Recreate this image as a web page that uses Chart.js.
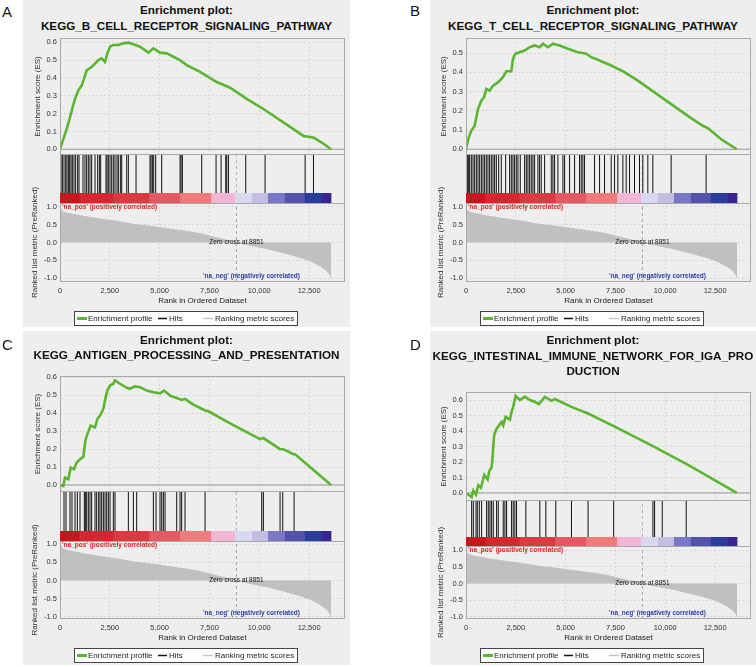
<!DOCTYPE html>
<html><head><meta charset="utf-8">
<script src="https://cdn.jsdelivr.net/npm/chart.js@4.4.0/dist/chart.umd.min.js"></script>
<style>
html,body{margin:0;padding:0;background:#fff;width:756px;height:667px;overflow:hidden;position:relative;font-family:"Liberation Sans",Arial,sans-serif;}
.box{position:absolute;background:#eeeeee;}
.tl{position:absolute;font-weight:bold;font-size:11.7px;color:#111;text-align:center;white-space:nowrap;line-height:16px;height:16px;}
.letter{position:absolute;font-size:15px;color:#111;line-height:16px;}
canvas{position:absolute;}
</style></head><body>
<script>
// ---------------- data ----------------
const X_MAX = 14300;
const xTicks = [0, 2500, 5000, 7500, 10000, 12500];
const zeroCross = 8851;

const titleA = ['Enrichment plot:', 'KEGG_B_CELL_RECEPTOR_SIGNALING_PATHWAY'];
const titleB = ['Enrichment plot:', 'KEGG_T_CELL_RECEPTOR_SIGNALING_PATHWAY'];
const titleC = ['Enrichment plot:', 'KEGG_ANTIGEN_PROCESSING_AND_PRESENTATION'];
const titleD = ['Enrichment plot:', 'KEGG_INTESTINAL_IMMUNE_NETWORK_FOR_IGA_PRO', 'DUCTION'];

// running enrichment score: [rank, ES]
const esA = [[0,0],[167,0.057],[334,0.113],[502,0.179],[636,0.236],[753,0.283],[920,0.330],[1088,0.358],[1205,0.396],[1339,0.443],[1473,0.453],[1590,0.462],[1757,0.481],[1925,0.500],[2092,0.51],[2259,0.49],[2376,0.538],[2510,0.575],[2677,0.585],[2928,0.585],[3179,0.594],[3430,0.598],[3681,0.589],[4016,0.575],[4434,0.542],[4686,0.566],[5020,0.542],[5355,0.538],[5690,0.519],[6024,0.5],[6359,0.472],[7028,0.434],[7865,0.377],[8534,0.345],[9371,0.283],[10207,0.226],[11211,0.151],[12215,0.075],[12466,0.07],[12717,0.066],[13135,0.038],[13604,0]];
const esB = [[0,0],[134,0.061],[267,0.096],[434,0.122],[518,0.165],[602,0.209],[769,0.253],[902,0.27],[1019,0.314],[1186,0.305],[1354,0.331],[1604,0.348],[1855,0.375],[2022,0.406],[2273,0.406],[2356,0.47],[2473,0.497],[2690,0.505],[2941,0.514],[3192,0.531],[3442,0.54],[3693,0.531],[3860,0.549],[4111,0.531],[4362,0.549],[4696,0.54],[5113,0.523],[5615,0.505],[6032,0.497],[6283,0.479],[6701,0.462],[7286,0.436],[7954,0.401],[8622,0.357],[9458,0.296],[10293,0.235],[11129,0.174],[11881,0.122],[12132,0.11],[12800,0.052],[13585,0]];
const esC = [[0,0],[167,-0.006],[251,0.041],[418,0.032],[535,0.097],[703,0.088],[837,0.125],[1004,0.143],[1171,0.156],[1271,0.246],[1372,0.283],[1539,0.33],[1757,0.32],[1874,0.367],[2008,0.386],[2175,0.423],[2275,0.479],[2376,0.525],[2510,0.553],[2677,0.563],[2760,0.581],[3011,0.563],[3346,0.54],[3513,0.535],[3764,0.548],[4015,0.544],[4350,0.525],[4684,0.516],[5019,0.51],[5220,0.525],[5521,0.497],[5856,0.484],[6107,0.473],[6274,0.479],[6692,0.447],[7278,0.414],[7445,0.41],[8700,0.333],[10038,0.255],[10205,0.261],[11042,0.199],[11209,0.199],[11711,0.171],[11795,0.171],[13601,0]];
const esD = [[0,0],[284,-0.026],[367,0.015],[501,-0.011],[618,0.05],[751,0.033],[918,0.116],[1085,0.087],[1168,0.142],[1285,0.164],[1335,0.229],[1369,0.305],[1419,0.377],[1535,0.415],[1652,0.436],[1786,0.458],[1869,0.436],[1986,0.491],[2203,0.473],[2287,0.524],[2370,0.556],[2487,0.626],[2704,0.6],[2954,0.622],[3204,0.6],[3455,0.589],[3655,0.574],[3956,0.62],[4289,0.595],[4456,0.607],[5291,0.556],[6125,0.513],[7410,0.432],[9430,0.299],[9797,0.273],[11099,0.185],[13585,0]];

// hit positions (rank)
const hitsA = [50,117,201,285,351,418,485,552,619,703,786,887,954,1155,1255,1339,1422,1506,1590,1757,1891,1975,2042,2309,2359,2426,2510,2594,2677,2761,2861,2928,3029,3096,3347,3430,3815,4518,4568,4635,4702,4802,5104,6024,6074,6141,7112,7831,8082,8316,8366,8450,9320,10291,12299,12718];
const hitsB = [67,134,184,267,351,434,518,602,685,769,852,936,1019,1103,1186,1270,1354,1437,1521,1638,1771,1989,2189,2273,2356,2440,2523,2607,2724,2941,3025,3108,3192,3275,3359,3442,3609,3693,3776,3944,4278,4361,4445,4612,4863,4947,5197,5448,5698,5782,5865,5949,6450,6701,6951,7286,7453,7620,7871,8038,8205,8455,8706,8873,9124,9374,10293,12048];
const hitsC = [201,301,502,602,753,870,1004,1221,1271,1338,1422,1506,1589,1757,1840,1941,2008,2091,2175,2259,2342,2426,2510,2677,2760,3430,3681,3848,4684,4818,5019,5103,5186,5270,5856,6023,6106,6274,7278,10122,10205,11042,11176,11745];
const hitsD = [284,367,501,567,668,784,1035,1118,1202,1285,1369,1535,1619,1869,1953,2036,2287,2370,2453,2537,3004,3705,4006,4506,5291,6125,7410,9380,9463,9847,11049];

// ranked list metric (shared)
const metricRank  = [0,60,167,335,1171,2008,2844,3681,4517,5354,6190,7027,7863,8851,9536,10373,11209,12046,12548,13050,13384,13551,13604];
const metricValue = [1.0,0.92,0.856,0.83,0.735,0.66,0.595,0.51,0.456,0.39,0.326,0.25,0.13,0,-0.08,-0.17,-0.288,-0.419,-0.51,-0.66,-0.79,-0.91,-1.0];

// heat bar segments
const barEdges  = [0,1000,2700,4500,6050,7600,8800,9650,10450,11300,12300,13150,13600];
const barColors = ['#c8161e','#d42830','#dc3a42','#e45a64','#ee7c7c','#f2b6d4','#d8d8ee','#c2bee2','#7a78c6','#5252aa','#2c3c9c','#3a2590'];

// ---------------- styles / layout ----------------
const FONT = '"Liberation Sans", Arial, sans-serif';
const GREEN = '#5cb531';
const GRID = '#d6d6d6';
const FRAME = '#a8a8a8';
const ES_AXIS_W = 27, RK_AXIS_W = 30, X_AXIS_H = 24, ES_TOP_PAD = 6;
Chart.defaults.font.family = FONT;

const panels = [
  {box:[23,0,327,327], letter:['A',2,11.5], title:titleA, titleY:[10,26], plotL:60, plotR:344, es:[38,154], hits:[154,193], cbar:[193,203], rank:[203,281], esData:esA, hitData:hitsA, esMin:-0.032, esMax:0.624, rkMin:-1.11, rkMax:1.11},
  {box:[430,0,326,327], letter:['B',410,11], title:titleB, titleY:[10,26], plotL:466, plotR:750, es:[38,154], hits:[154,193], cbar:[193,203], rank:[203,281], esData:esB, hitData:hitsB, esMin:-0.030, esMax:0.579, rkMin:-1.11, rkMax:1.11},
  {box:[23,331,327,334], letter:['C',2,345], title:titleC, titleY:[340,355], plotL:60, plotR:344, es:[376,491], hits:[491,531], cbar:[531,541], rank:[541,618], esData:esC, hitData:hitsC, esMin:-0.039, esMax:0.606, rkMin:-1.056, rkMax:1.083},
  {box:[430,331,326,334], letter:['D',410,345], title:titleD, titleY:[340,355.5,371], plotL:466, plotR:750, es:[392,500], hits:[500,537], cbar:[537,546], rank:[546,618], esData:esD, hitData:hitsD, esMin:-0.052, esMax:0.652, rkMin:-1.06, rkMax:1.12}
];

function el(cls, x, y, w, h, text) {
  const d = document.createElement('div');
  d.className = cls;
  d.style.left = x + 'px'; d.style.top = y + 'px';
  if (w != null) d.style.width = w + 'px';
  if (h != null) d.style.height = h + 'px';
  if (text != null) d.textContent = text;
  document.body.appendChild(d);
  return d;
}
function canvasAt(x, y, w, h) {
  const c = document.createElement('canvas');
  c.width = w; c.height = h;
  c.style.left = x + 'px'; c.style.top = y + 'px';
  c.style.width = w + 'px'; c.style.height = h + 'px';
  document.body.appendChild(c);
  return c;
}
function noPad(s) { s.paddingTop = 0; s.paddingBottom = 0; s.paddingLeft = 0; s.paddingRight = 0; }
function setXTicks(s) { s.ticks = xTicks.map(v => ({value: v})); }

const framePlugin = {
  id: 'frame',
  afterDatasetsDraw(chart) {
    const a = chart.chartArea, c = chart.ctx;
    c.save(); c.strokeStyle = FRAME; c.lineWidth = 1;
    c.strokeRect(a.left + 0.5, a.top + 0.5, a.right - a.left - 1, a.bottom - a.top - 1);
    c.restore();
  }
};

const legendItems = [
  {text:'Enrichment profile', color:GREEN, lw:3, x0:3, x1:13, tx:14},
  {text:'Hits', color:'#111', lw:1.5, x0:84, x1:93, tx:95},
  {text:'', color:'#ffffff', lw:1.5, x0:116, x1:126, tx:127},
  {text:'Ranking metric scores', color:'#c4c4c4', lw:1.5, x0:129, x1:139, tx:141}
];

const annotPlugin = {
  id: 'annot',
  afterDatasetsDraw(chart) {
    const {ctx, chartArea: a, scales: {x, y}} = chart;
    ctx.save();
    ctx.font = 'bold 6.5px ' + FONT;
    ctx.fillStyle = '#dd2222'; ctx.textAlign = 'left'; ctx.textBaseline = 'middle';
    ctx.fillText("'na_pos' (positively correlated)", a.left + 2, a.top + 4);
    ctx.fillStyle = '#2c3ca8'; ctx.textAlign = 'right';
    ctx.fillText("'na_neg' (negatively correlated)", a.left + 240, a.bottom - 6);
    ctx.font = '6.5px ' + FONT; ctx.fillStyle = '#111'; ctx.textAlign = 'center';
    ctx.fillText('Zero cross at ' + zeroCross, x.getPixelForValue(zeroCross), y.getPixelForValue(0));
    // legend box
    const lx = a.left + 14, ly = a.bottom + 29, lw = 224, lh = 15;
    ctx.fillStyle = '#ffffff'; ctx.fillRect(lx, ly, lw, lh);
    ctx.strokeStyle = '#444'; ctx.lineWidth = 1; ctx.strokeRect(lx + 0.5, ly + 0.5, lw - 1, lh - 1);
    ctx.font = '8px ' + FONT; ctx.textAlign = 'left'; ctx.textBaseline = 'middle';
    for (const it of legendItems) {
      ctx.strokeStyle = it.color; ctx.lineWidth = it.lw;
      ctx.beginPath(); ctx.moveTo(lx + it.x0, ly + lh / 2); ctx.lineTo(lx + it.x1, ly + lh / 2); ctx.stroke();
      ctx.fillStyle = '#222';
      if (it.text) ctx.fillText(it.text, lx + it.tx, ly + lh / 2 + 0.5);
    }
    ctx.restore();
  }
};

const baseOpts = {
  responsive: false, animation: false, devicePixelRatio: 1,
  plugins: {legend: {display: false}, tooltip: {enabled: false}},
  elements: {point: {radius: 0, hitRadius: 0}, line: {tension: 0}},
  events: []
};
const tickFont = {size: 7.5, family: FONT};
const titleFont = {size: 8, family: FONT};

function buildPanel(p) {
  const [bx, by, bw, bh] = p.box;
  el('box', bx, by, bw, bh);
  el('letter', p.letter[1], p.letter[2] - 8, null, null, p.letter[0]);
  p.title.forEach((t, i) => el('tl', bx, p.titleY[i] - 8, bw, 16, t));
  const plotW = p.plotR + 1 - p.plotL;

  // ---- enrichment score ----
  const esH = p.es[1] - p.es[0] + 1;
  new Chart(canvasAt(p.plotL - ES_AXIS_W, p.es[0] - ES_TOP_PAD, ES_AXIS_W + plotW, esH + ES_TOP_PAD), {
    type: 'line',
    data: {datasets: [
      {data: p.esData.map(([x, y]) => ({x, y})), borderColor: GREEN, borderWidth: 2.6, pointRadius: 0},
      {data: [{x: 0, y: 0}, {x: X_MAX, y: 0}], borderColor: '#9a9a9a', borderWidth: 1, pointRadius: 0}
    ]},
    options: Object.assign({}, baseOpts, {
      layout: {padding: {top: ES_TOP_PAD, left: 0, right: 0, bottom: 0}},
      scales: {
        x: {type: 'linear', min: 0, max: X_MAX, ticks: {display: false},
            afterBuildTicks: setXTicks,
            grid: {color: GRID, drawTicks: false}, border: {display: false, dash: [2, 2]},
            afterFit(s) { s.height = 0; noPad(s); }},
        y: {type: 'linear', min: p.esMin, max: p.esMax,
            ticks: {stepSize: 0.1, includeBounds: false, callback: v => v.toFixed(1), font: tickFont, color: '#333', padding: 3},
            grid: {color: GRID, drawTicks: false}, border: {display: false, dash: [2, 2]},
            title: {display: true, text: 'Enrichment score (ES)', font: titleFont, color: '#333', padding: 0},
            afterFit(s) { s.width = ES_AXIS_W; noPad(s); }}
      }
    }),
    plugins: [framePlugin]
  });

  // ---- hits ----
  const hitsH = p.hits[1] - p.hits[0];
  const hcH = p.cbar[1] - p.hits[0] + 1;
  const hitPts = [];
  p.hitData.forEach(r => { hitPts.push({x: r, y: 0}, {x: r, y: 1}, {x: r, y: null}); });
  new Chart(canvasAt(p.plotL, p.hits[0], plotW, hcH), {
    type: 'line',
    data: {datasets: [
      {data: hitPts, borderColor: '#111', borderWidth: 1, pointRadius: 0, spanGaps: false},
      {data: [{x: zeroCross, y: 0}, {x: zeroCross, y: 1}], borderColor: '#b0b0b0', borderWidth: 1, borderDash: [3, 3], pointRadius: 0}
    ]},
    options: Object.assign({}, baseOpts, {
      layout: {padding: 0},
      scales: {
        x: {type: 'linear', display: false, min: 0, max: X_MAX},
        y: {type: 'linear', display: false, min: 1 - hcH / hitsH, max: 1}
      }
    }),
    plugins: [framePlugin]
  });

  // ---- colour bar ----
  const segs = barColors.map((c, i) => ({x: [barEdges[i], barEdges[i + 1]], y: 'metric'}));
  new Chart(canvasAt(p.plotL, p.cbar[0], plotW, p.cbar[1] - p.cbar[0]), {
    type: 'bar',
    data: {labels: ['metric'], datasets: [{data: segs, backgroundColor: barColors, borderWidth: 0,
      barPercentage: 1, categoryPercentage: 1, grouped: false}]},
    options: Object.assign({}, baseOpts, {
      indexAxis: 'y',
      layout: {padding: 0},
      scales: {
        x: {type: 'linear', display: false, min: 0, max: X_MAX},
        y: {type: 'category', display: false}
      }
    })
  });

  // ---- ranked list metric ----
  const cTop = p.hits[0];
  const cH = p.rank[1] + 50 - cTop;
  const areaBottom = p.rank[1] + 1 - cTop;
  new Chart(canvasAt(p.plotL - RK_AXIS_W, cTop, RK_AXIS_W + plotW, cH), {
    type: 'line',
    data: {datasets: [
      {data: metricRank.map((r, i) => ({x: r, y: metricValue[i]})), borderColor: '#c0c0c0', backgroundColor: '#c0c0c0',
       borderWidth: 1, fill: 'origin', pointRadius: 0},
      {data: [{x: zeroCross, y: p.rkMin}, {x: zeroCross, y: p.rkMax}], borderColor: '#a0a0a0', borderWidth: 1, borderDash: [3, 3], pointRadius: 0}
    ]},
    options: Object.assign({}, baseOpts, {
      layout: {padding: {top: p.rank[0] - cTop, left: 0, right: 0, bottom: cH - X_AXIS_H - areaBottom}},
      scales: {
        x: {type: 'linear', min: 0, max: X_MAX,
            afterBuildTicks: setXTicks,
            ticks: {callback: v => v.toLocaleString('en-US'), font: tickFont, color: '#333', padding: 4, maxRotation: 0, autoSkip: false},
            grid: {color: GRID, drawTicks: false}, border: {display: false, dash: [2, 2]},
            title: {display: true, text: 'Rank in Ordered Dataset', font: titleFont, color: '#222', padding: 0},
            afterFit(s) { s.height = X_AXIS_H; noPad(s); }},
        y: {type: 'linear', min: p.rkMin, max: p.rkMax,
            ticks: {stepSize: 0.5, includeBounds: false, callback: v => v.toFixed(1), font: tickFont, color: '#333', padding: 3},
            grid: {color: GRID, drawTicks: false}, border: {display: false, dash: [2, 2]},
            title: {display: true, text: 'Ranked list metric (PreRanked)', font: titleFont, color: '#333', padding: 0},
            afterFit(s) { s.width = RK_AXIS_W; noPad(s); }}
      }
    }),
    plugins: [framePlugin, annotPlugin]
  });
}

panels.forEach(buildPanel);
</script>
</body></html>
